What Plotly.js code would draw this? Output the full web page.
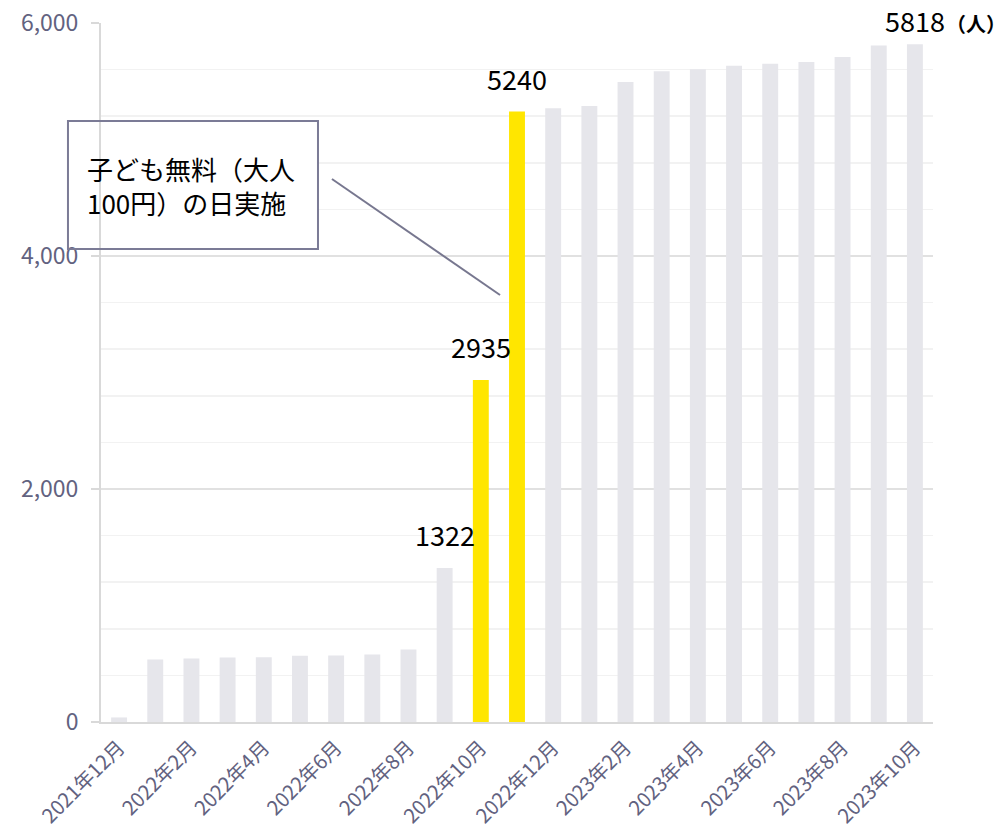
<!DOCTYPE html>
<html>
<head>
<meta charset="utf-8">
<script src="https://cdn.plot.ly/plotly-3.0.1.min.js"></script>
<style>html,body{margin:0;padding:0;background:#fff;}#chart{width:1005px;height:830px;}</style>
</head>
<body>
<div id="chart"></div>
<script>
// ---- data ----
const months = ['2021年12月','2022年1月','2022年2月','2022年3月','2022年4月','2022年5月','2022年6月','2022年7月','2022年8月','2022年9月','2022年10月','2022年11月','2022年12月','2023年1月','2023年2月','2023年3月','2023年4月','2023年5月','2023年6月','2023年7月','2023年8月','2023年9月','2023年10月'];
const visitors = [39, 536, 545, 553, 556, 568, 570, 579, 622, 1322, 2935, 5240, 5269, 5288, 5494, 5586, 5603, 5634, 5651, 5666, 5709, 5806, 5818];
const highlightMonths = ['2022年10月', '2022年11月'];
const labeledMonths = ['2022年9月', '2022年10月', '2022年11月', '2023年10月'];
const unitLabel = '（人）';
const calloutText = '子ども無料（大人<br>100円）の日実施';
const yTickVals = [0, 2000, 4000, 6000];

// ---- styles ----
const GREY = '#e6e6eb';
const YELLOW = '#ffe600';
const AXIS_TEXT = '#62627f';
const FONT = '"Noto Sans CJK JP", "Noto Sans", sans-serif';

const barColors = months.map(m => highlightMonths.includes(m) ? YELLOW : GREY);

const trace = {
  type: 'bar',
  x: months,
  y: visitors,
  marker: {color: barColors},
  hoverinfo: 'x+y',
  showlegend: false
};

const annotations = [];
labeledMonths.forEach(m => {
  const i = months.indexOf(m);
  const last = (i === months.length - 1);
  annotations.push({
    xref: 'x', yref: 'y', x: m, y: visitors[i],
    text: String(visitors[i]),
    showarrow: false,
    xanchor: 'center', yanchor: 'bottom',
    yshift: last ? 2 : 12,
    font: {family: FONT, size: 27, color: '#000'}
  });
  if (last) {
    annotations.push({
      xref: 'x', yref: 'y', x: m, y: visitors[i],
      text: '<b>' + unitLabel + '</b>',
      showarrow: false,
      xanchor: 'left', yanchor: 'bottom',
      xshift: 29, yshift: 4,
      font: {family: FONT, size: 20, color: '#000'}
    });
  }
});
annotations.push({
  xref: 'paper', yref: 'paper', x: -0.019, y: 0.767,
  text: calloutText, align: 'left',
  showarrow: false, xanchor: 'left', yanchor: 'middle',
  font: {family: FONT, size: 26, color: '#000'}
});

const layout = {
  width: 1005, height: 830,
  margin: {l: 101, r: 72, t: 23, b: 108, pad: 0},
  paper_bgcolor: '#fff', plot_bgcolor: '#fff',
  font: {family: FONT, color: AXIS_TEXT},
  bargap: 0.56,
  xaxis: {
    type: 'category',
    range: [-0.5, months.length - 0.5],
    dtick: 2,
    tickangle: -45,
    ticks: 'outside', ticklen: 4, tickcolor: 'rgba(0,0,0,0)',
    tickfont: {family: FONT, size: 20, color: AXIS_TEXT},
    showline: true, linecolor: '#d9d9d9', linewidth: 2,
    showgrid: false, zeroline: false,
    fixedrange: true
  },
  xaxis2: {
    overlaying: 'x', anchor: 'y',
    range: [-0.5, months.length - 0.5],
    tickmode: 'array',
    tickvals: months.map((m, i) => i - 0.5).filter((v, i) => i % 2 === 0),
    ticks: 'outside', ticklen: 7, tickwidth: 2, tickcolor: '#d9d9d9',
    showticklabels: false, showgrid: false, zeroline: false, showline: false,
    fixedrange: true
  },
  yaxis: {
    range: [0, 6000],
    tickmode: 'array', tickvals: yTickVals,
    tickformat: ',d',
    ticks: 'outside', ticklen: 8, tickcolor: '#d9d9d9', tickwidth: 2,
    ticklabelstandoff: 8,
    tickfont: {family: FONT, size: 23, color: AXIS_TEXT},
    showline: true, linecolor: '#d9d9d9', linewidth: 2,
    showgrid: true, gridcolor: '#e1e1e1', gridwidth: 1.5,
    minor: {dtick: 400, showgrid: true, gridcolor: '#f2f2f2', gridwidth: 1.5, ticks: ''},
    zeroline: false,
    fixedrange: true
  },
  shapes: [
    {type: 'rect', layer: 'between', xref: 'x', yref: 'y',
     x0: -0.5, x1: 5.5, y0: 4060, y1: 5159,
     fillcolor: '#ffffff', line: {width: 0}},
    {type: 'rect', layer: 'above', xref: 'paper', yref: 'paper',
     x0: -0.0397, x1: 0.2608, y0: 0.6767, y1: 0.8598,
     fillcolor: 'rgba(0,0,0,0)', line: {color: '#7b7b96', width: 2}},
    {type: 'line', layer: 'above', xref: 'paper', yref: 'paper',
     x0: 0.2776, y0: 0.7768, x1: 0.4796, y1: 0.6109,
     line: {color: '#77778f', width: 2}}
  ],
  annotations: annotations
};

Plotly.newPlot('chart', [trace], layout, {displayModeBar: false, staticPlot: true});
</script>
</body>
</html>
